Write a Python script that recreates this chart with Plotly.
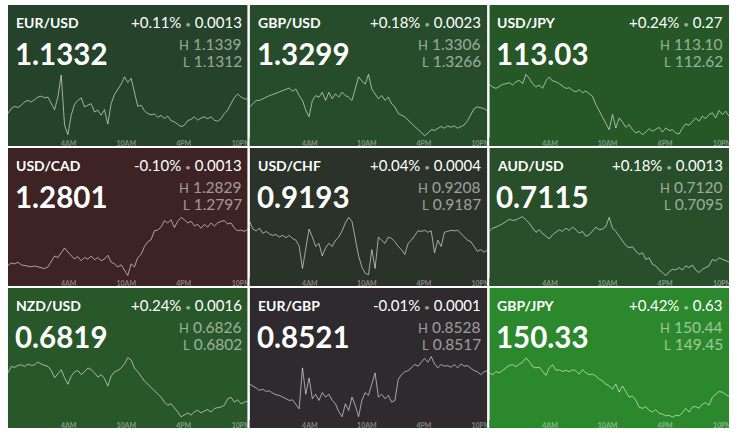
import plotly.graph_objects as go

# ---------------- data ----------------
pairs = ["EUR/USD", "GBP/USD", "USD/JPY", "USD/CAD", "USD/CHF", "AUD/USD", "NZD/USD", "EUR/GBP", "GBP/JPY"]
last_price = ["1.1332", "1.3299", "113.03", "1.2801", "0.9193", "0.7115", "0.6819", "0.8521", "150.33"]
pct_change = ["+0.11%", "+0.18%", "+0.24%", "-0.10%", "+0.04%", "+0.18%", "+0.24%", "-0.01%", "+0.42%"]
abs_change = ["0.0013", "0.0023", "0.27", "0.0013", "0.0004", "0.0013", "0.0016", "0.0001", "0.63"]
high_text = ["1.1339", "1.3306", "113.10", "1.2829", "0.9208", "0.7120", "0.6826", "0.8528", "150.44"]
low_text = ["1.1312", "1.3266", "112.62", "1.2797", "0.9187", "0.7095", "0.6802", "0.8517", "149.45"]
high = [1.1339, 1.3306, 113.10, 1.2829, 0.9208, 0.7120, 0.6826, 0.8528, 150.44]
low = [1.1312, 1.3266, 112.62, 1.2797, 0.9187, 0.7095, 0.6802, 0.8517, 149.45]

# hours relative to midnight: 25-hour window starting 9:40PM the previous day, 73 samples
window_start = -7 / 3
window_hours = 25
hours = [window_start + i * window_hours / 72 for i in range(73)]
tick_hours = [4, 10, 16, 22]
tick_labels = ["4AM", "10AM", "4PM", "10PM"]

eur_usd = [1.13218, 1.13240, 1.13249, 1.13244, 1.13254, 1.13268, 1.13275, 1.13268, 1.13278, 1.13289,
           1.13293, 1.13286, 1.13289, 1.13263, 1.13235, 1.13289, 1.13384, 1.13169, 1.13127, 1.13211,
           1.13258, 1.13275, 1.13286, 1.13247, 1.13254, 1.13261, 1.13225, 1.13233, 1.13211, 1.13235,
           1.13173, 1.13261, 1.13300, 1.13322, 1.13345, 1.13376, 1.13352, 1.13370, 1.13310, 1.13249,
           1.13254, 1.13230, 1.13218, 1.13213, 1.13216, 1.13202, 1.13210, 1.13197, 1.13207, 1.13188,
           1.13182, 1.13173, 1.13162, 1.13168, 1.13188, 1.13193, 1.13204, 1.13190, 1.13199, 1.13204,
           1.13196, 1.13204, 1.13190, 1.13185, 1.13196, 1.13218, 1.13233, 1.13261, 1.13286, 1.13303,
           1.13289, 1.13282, 1.13280]
gbp_usd = [1.32848, 1.32868, 1.32889, 1.32889, 1.32900, 1.32910, 1.32920, 1.32927, 1.32935, 1.32941,
           1.32948, 1.32956, 1.32968, 1.32948, 1.32962, 1.32920, 1.32889, 1.32827, 1.32785, 1.32889,
           1.32920, 1.32910, 1.32941, 1.32889, 1.32941, 1.32900, 1.32931, 1.32910, 1.32941, 1.32920,
           1.32910, 1.32889, 1.32973, 1.33039, 1.33014, 1.32993, 1.33056, 1.32962, 1.32931, 1.32900,
           1.32920, 1.32889, 1.32910, 1.32868, 1.32848, 1.32806, 1.32795, 1.32785, 1.32764, 1.32743,
           1.32723, 1.32702, 1.32681, 1.32664, 1.32681, 1.32702, 1.32698, 1.32712, 1.32723, 1.32712,
           1.32727, 1.32718, 1.32727, 1.32712, 1.32723, 1.32733, 1.32760, 1.32795, 1.32837, 1.32848,
           1.32843, 1.32837, 1.32823]
usd_jpy = [113.018, 112.997, 112.987, 113.005, 113.018, 113.023, 113.031, 113.013, 113.038, 113.049,
           113.023, 113.095, 113.064, 113.023, 112.997, 113.013, 112.987, 113.044, 113.074, 113.044,
           113.038, 113.023, 113.002, 112.987, 112.992, 112.972, 112.961, 112.977, 112.954, 112.967,
           112.946, 112.928, 112.864, 112.813, 112.761, 112.710, 112.671, 112.787, 112.684, 112.761,
           112.730, 112.689, 112.710, 112.671, 112.646, 112.659, 112.633, 112.653, 112.679, 112.659,
           112.671, 112.689, 112.653, 112.684, 112.664, 112.671, 112.646, 112.638, 112.684, 112.715,
           112.705, 112.730, 112.761, 112.736, 112.774, 112.756, 112.787, 112.800, 112.761, 112.818,
           112.787, 112.813, 112.774]
usd_cad = [1.28029, 1.28042, 1.28037, 1.28046, 1.28032, 1.28029, 1.28026, 1.28021, 1.28026, 1.28021,
           1.28015, 1.28012, 1.28021, 1.28054, 1.28079, 1.28071, 1.28096, 1.28122, 1.28100, 1.28079,
           1.28063, 1.28076, 1.28054, 1.28071, 1.28063, 1.28079, 1.28059, 1.28071, 1.28054, 1.28063,
           1.28083, 1.28046, 1.28037, 1.28021, 1.28032, 1.28004, 1.27975, 1.28037, 1.28021, 1.28071,
           1.28088, 1.28130, 1.28155, 1.28167, 1.28214, 1.28218, 1.28234, 1.28268, 1.28256, 1.28273,
           1.28231, 1.28265, 1.28285, 1.28273, 1.28256, 1.28265, 1.28240, 1.28248, 1.28228, 1.28248,
           1.28234, 1.28256, 1.28240, 1.28256, 1.28265, 1.28268, 1.28251, 1.28256, 1.28228, 1.28214,
           1.28218, 1.28211, 1.28221]
usd_chf = [0.92063, 0.92036, 0.92030, 0.92039, 0.92021, 0.92028, 0.92019, 0.92014, 0.92017, 0.92008,
           0.92014, 0.92006, 0.92014, 0.92003, 0.91997, 0.91977, 0.91898, 0.91975, 0.92036, 0.92008,
           0.91975, 0.91986, 0.91942, 0.91970, 0.91986, 0.91975, 0.91997, 0.92008, 0.92030, 0.92058,
           0.92077, 0.92063, 0.92008, 0.91942, 0.91903, 0.91881, 0.91876, 0.91964, 0.91898, 0.92008,
           0.91997, 0.91986, 0.92008, 0.92003, 0.91992, 0.91975, 0.91964, 0.91947, 0.91986, 0.91997,
           0.92014, 0.92030, 0.92028, 0.92032, 0.92025, 0.92030, 0.91953, 0.91997, 0.91975, 0.92025,
           0.92028, 0.92032, 0.92030, 0.92032, 0.92021, 0.92008, 0.91997, 0.91992, 0.91975, 0.91958,
           0.91964, 0.91955, 0.91962]
aud_usd = [0.71138, 0.71152, 0.71156, 0.71162, 0.71170, 0.71179, 0.71189, 0.71184, 0.71186, 0.71193,
           0.71200, 0.71186, 0.71173, 0.71152, 0.71134, 0.71145, 0.71129, 0.71118, 0.71107, 0.71124,
           0.71134, 0.71145, 0.71138, 0.71152, 0.71142, 0.71156, 0.71145, 0.71131, 0.71138, 0.71118,
           0.71124, 0.71138, 0.71156, 0.71145, 0.71148, 0.71159, 0.71197, 0.71152, 0.71138, 0.71118,
           0.71097, 0.71079, 0.71070, 0.71074, 0.71056, 0.71042, 0.71049, 0.71021, 0.71028, 0.71001,
           0.70994, 0.70977, 0.70966, 0.70953, 0.70969, 0.70980, 0.70977, 0.70987, 0.70977, 0.70994,
           0.70987, 0.70997, 0.70977, 0.70966, 0.70980, 0.70987, 0.70994, 0.71021, 0.71015, 0.71028,
           0.71021, 0.71015, 0.71010]
nzd_usd = [0.68197, 0.68222, 0.68218, 0.68226, 0.68228, 0.68222, 0.68231, 0.68226, 0.68228, 0.68239,
           0.68231, 0.68226, 0.68222, 0.68206, 0.68178, 0.68193, 0.68209, 0.68178, 0.68153, 0.68184,
           0.68201, 0.68206, 0.68190, 0.68201, 0.68216, 0.68209, 0.68197, 0.68180, 0.68190, 0.68175,
           0.68146, 0.68184, 0.68201, 0.68206, 0.68216, 0.68231, 0.68256, 0.68247, 0.68216, 0.68201,
           0.68184, 0.68165, 0.68153, 0.68140, 0.68127, 0.68115, 0.68102, 0.68083, 0.68071, 0.68077,
           0.68062, 0.68045, 0.68026, 0.68033, 0.68041, 0.68033, 0.68045, 0.68052, 0.68041, 0.68049,
           0.68054, 0.68045, 0.68058, 0.68062, 0.68064, 0.68071, 0.68096, 0.68102, 0.68083, 0.68092,
           0.68077, 0.68083, 0.68087]
eur_gbp = [0.85231, 0.85228, 0.85224, 0.85220, 0.85222, 0.85218, 0.85219, 0.85215, 0.85212, 0.85211,
           0.85208, 0.85205, 0.85202, 0.85203, 0.85195, 0.85187, 0.85260, 0.85213, 0.85242, 0.85205,
           0.85213, 0.85202, 0.85216, 0.85208, 0.85213, 0.85202, 0.85196, 0.85182, 0.85173, 0.85196,
           0.85184, 0.85208, 0.85193, 0.85173, 0.85202, 0.85216, 0.85211, 0.85231, 0.85251, 0.85208,
           0.85213, 0.85205, 0.85211, 0.85199, 0.85202, 0.85239, 0.85248, 0.85253, 0.85255, 0.85260,
           0.85266, 0.85263, 0.85271, 0.85277, 0.85270, 0.85280, 0.85267, 0.85260, 0.85266, 0.85263,
           0.85264, 0.85261, 0.85266, 0.85260, 0.85267, 0.85263, 0.85264, 0.85260, 0.85255, 0.85253,
           0.85248, 0.85253, 0.85255]
gbp_jpy = [150.18, 150.15, 150.20, 150.18, 150.22, 150.26, 150.30, 150.31, 150.28, 150.32,
           150.35, 150.42, 150.36, 150.28, 150.26, 150.27, 150.20, 150.14, 150.26, 150.31,
           150.22, 150.23, 150.20, 150.22, 150.20, 150.23, 150.21, 150.16, 150.23, 150.18,
           150.15, 150.16, 150.13, 150.08, 150.05, 150.00, 149.97, 149.92, 150.00, 149.87,
           149.97, 149.89, 149.79, 149.81, 149.74, 149.63, 149.61, 149.64, 149.58, 149.55,
           149.59, 149.53, 149.52, 149.49, 149.50, 149.47, 149.50, 149.49, 149.54, 149.61,
           149.55, 149.63, 149.64, 149.61, 149.68, 149.70, 149.66, 149.79, 149.84, 149.88,
           149.87, 149.84, 149.80]

series = [eur_usd, gbp_usd, usd_jpy, usd_cad, usd_chf, aud_usd, nzd_usd, eur_gbp, gbp_jpy]

tile_colors = ["#25422a", "#274c2b", "#255727", "#3d2324", "#2b3229", "#284f2a", "#28572a", "#2e2a2d", "#2c882c"]

# ---------------- layout ----------------
W, H = 737, 436
col_x = [(8, 249), (251, 490), (492, 733)]
row_y = [(5, 146), (148, 286), (288, 428)]

FONT = "Lato"
LINE_COLOR = "rgba(255,255,255,0.58)"
GREY = "rgba(255,255,255,0.55)"
TICK_COLOR = "rgba(255,255,255,0.42)"


def px(x):
    return x / W


def py(y):
    return 1 - y / H


fig = go.Figure()
layout_axes = {}
shapes = []
annotations = []

for k in range(9):
    r, c = divmod(k, 3)
    x0, x1 = col_x[c]
    y0, y1 = row_y[r]
    n = k + 1
    xa = "x" if n == 1 else f"x{n}"
    ya = "y" if n == 1 else f"y{n}"
    xname = "xaxis" if n == 1 else f"xaxis{n}"
    yname = "yaxis" if n == 1 else f"yaxis{n}"

    shapes.append(dict(type="rect", xref="paper", yref="paper", layer="below",
                       x0=px(x0), x1=px(x1), y0=py(y1), y1=py(y0),
                       fillcolor=tile_colors[k], line=dict(width=0)))

    fig.add_trace(go.Scatter(x=hours, y=series[k], mode="lines", xaxis=xa, yaxis=ya,
                             line=dict(color=LINE_COLOR, width=1), hoverinfo="skip",
                             showlegend=False))

    span = high[k] - low[k]
    pad = span * 0.018
    layout_axes[xname] = dict(domain=[px(x0), px(x1)],
                              range=[window_start, window_start + window_hours], anchor=ya,
                              showgrid=False, zeroline=False, showline=False, ticks="",
                              tickvals=tick_hours, ticktext=tick_labels,
                              tickfont=dict(family=FONT, size=7, color=TICK_COLOR, weight=700),
                              fixedrange=True)
    layout_axes[yname] = dict(domain=[py(y1 - 8.5), py(y0 + 67.5)], range=[low[k] - pad, high[k] + pad],
                              anchor=xa, visible=False, fixedrange=True)

    # texts
    annotations.append(dict(xref="paper", yref="paper", x=px(x0 + 6), y=py(y0 + 17),
                            xanchor="left", yanchor="middle", showarrow=False,
                            text=pairs[k], font=dict(family=FONT, size=14, color="white", weight=700)))
    annotations.append(dict(xref="paper", yref="paper", x=px(x1 - 4), y=py(y0 + 17),
                            xanchor="right", yanchor="middle", showarrow=False,
                            text=f"{pct_change[k]} <span style='color:{GREY};font-size:10px'>•</span> {abs_change[k]}",
                            font=dict(family=FONT, size=15, color="white")))
    annotations.append(dict(xref="paper", yref="paper", x=px(x0 + 5), y=py(y0 + 48),
                            xanchor="left", yanchor="middle", showarrow=False,
                            text=last_price[k], font=dict(family=FONT, size=29.5, color="white", weight=700)))
    annotations.append(dict(xref="paper", yref="paper", x=px(x1 - 4), y=py(y0 + 39),
                            xanchor="right", yanchor="middle", showarrow=False,
                            text=f"<span style='font-size:13px'>H</span> {high_text[k]}",
                            font=dict(family=FONT, size=15.5, color=GREY)))
    annotations.append(dict(xref="paper", yref="paper", x=px(x1 - 4), y=py(y0 + 55.5),
                            xanchor="right", yanchor="middle", showarrow=False,
                            text=f"<span style='font-size:13px'>L</span> {low_text[k]}",
                            font=dict(family=FONT, size=15.5, color=GREY)))

# white gutters drawn above so tick labels are cut at tile edges
white = "#ffffff"
gutters = [(0, 8, 0, H), (249, 251, 0, H), (490, 492, 0, H), (733, W, 0, H),
           (0, W, 0, 5), (0, W, 146, 148), (0, W, 286, 288), (0, W, 428, H)]
for gx0, gx1, gy0, gy1 in gutters:
    shapes.append(dict(type="rect", xref="paper", yref="paper", layer="above",
                       x0=px(gx0), x1=px(gx1), y0=py(gy1), y1=py(gy0),
                       fillcolor=white, line=dict(width=0)))
# patch of tile colour where the neighbour's last tick label would spill over
for k in range(9):
    r, c = divmod(k, 3)
    if c == 0:
        continue
    x0, _ = col_x[c]
    _, y1 = row_y[r]
    shapes.append(dict(type="rect", xref="paper", yref="paper", layer="above",
                       x0=px(x0), x1=px(x0 + 6), y0=py(y1), y1=py(y1 - 8),
                       fillcolor=tile_colors[k], line=dict(width=0)))

fig.update_layout(width=W, height=H, autosize=False,
                  margin=dict(l=0, r=0, t=0, b=0),
                  paper_bgcolor="white", plot_bgcolor="rgba(0,0,0,0)",
                  shapes=shapes, annotations=annotations, showlegend=False,
                  **layout_axes)

fig.write_html("out.html", config={"displayModeBar": False},
               post_script="document.body.style.margin='0';document.body.style.overflow='hidden';")
